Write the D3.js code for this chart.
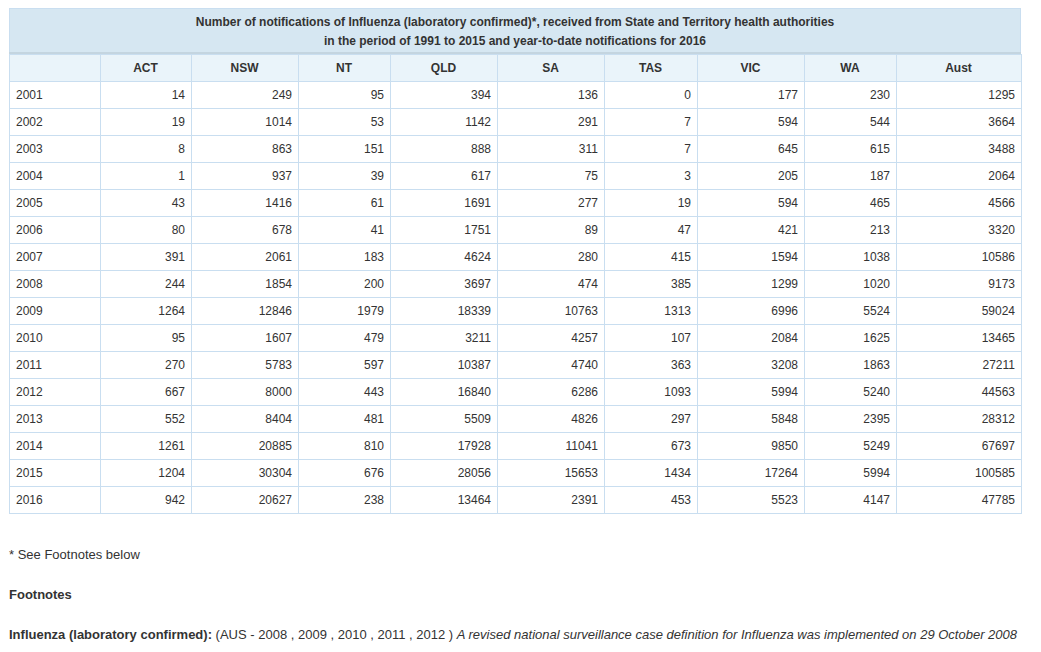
<!DOCTYPE html>
<html>
<head>
<meta charset="utf-8">
<script src="https://cdn.jsdelivr.net/npm/d3@7"></script>
<style>
  body { margin: 0; background: #fff; font-family: "Liberation Sans", Arial, sans-serif; }
  svg text { fill: #333; }
</style>
</head>
<body>
<svg id="chart" width="1041" height="652"></svg>
<script>
// data
var titleLines = [
  "Number of notifications of Influenza (laboratory confirmed)*, received from State and Territory health authorities",
  "in the period of 1991 to 2015 and year-to-date notifications for 2016"
];
var columns = ["", "ACT", "NSW", "NT", "QLD", "SA", "TAS", "VIC", "WA", "Aust"];
var years = ["2001", "2002", "2003", "2004", "2005", "2006", "2007", "2008",
  "2009", "2010", "2011", "2012", "2013", "2014", "2015", "2016"];
var ACT  = [14, 19, 8, 1, 43, 80, 391, 244, 1264, 95, 270, 667, 552, 1261, 1204, 942];
var NSW  = [249, 1014, 863, 937, 1416, 678, 2061, 1854, 12846, 1607, 5783, 8000, 8404, 20885, 30304, 20627];
var NT   = [95, 53, 151, 39, 61, 41, 183, 200, 1979, 479, 597, 443, 481, 810, 676, 238];
var QLD  = [394, 1142, 888, 617, 1691, 1751, 4624, 3697, 18339, 3211, 10387, 16840, 5509, 17928, 28056, 13464];
var SA   = [136, 291, 311, 75, 277, 89, 280, 474, 10763, 4257, 4740, 6286, 4826, 11041, 15653, 2391];
var TAS  = [0, 7, 7, 3, 19, 47, 415, 385, 1313, 107, 363, 1093, 297, 673, 1434, 453];
var VIC  = [177, 594, 645, 205, 594, 421, 1594, 1299, 6996, 2084, 3208, 5994, 5848, 9850, 17264, 5523];
var WA   = [230, 544, 615, 187, 465, 213, 1038, 1020, 5524, 1625, 1863, 5240, 2395, 5249, 5994, 4147];
var Aust = [1295, 3664, 3488, 2064, 4566, 3320, 10586, 9173, 59024, 13465, 27211, 44563, 28312, 67697, 100585, 47785];
var seriesByCol = { ACT: ACT, NSW: NSW, NT: NT, QLD: QLD, SA: SA, TAS: TAS, VIC: VIC, WA: WA, Aust: Aust };

// layout
var LEFT = 9, RIGHT = 1021;
var colWidths = [91, 91, 107, 92, 107, 107, 93, 107, 92, 125];
var TITLE_TOP = 8, TITLE_H = 46, HEAD_H = 27, ROW_H = 27;
var PAD = 7;
var BORDER = "#c9def0";

var svg = d3.select("#chart");

var colEdges = [LEFT];
colWidths.forEach(function(w, i) { colEdges.push(colEdges[i] + w); });
var xCol = d3.scaleOrdinal().domain(columns).range(colEdges.slice(0, -1));
var wCol = d3.scaleOrdinal().domain(columns).range(colWidths);

var bodyTop = TITLE_TOP + TITLE_H + HEAD_H;
var yRow = d3.scaleBand()
  .domain(years)
  .range([bodyTop, bodyTop + ROW_H * years.length]);

// title block
svg.append("rect")
  .attr("x", LEFT + 0.5).attr("y", TITLE_TOP + 0.5)
  .attr("width", RIGHT - LEFT - 1).attr("height", TITLE_H - 1)
  .attr("fill", "#d6e7f2").attr("stroke", BORDER);
svg.append("g").selectAll("text")
  .data(titleLines)
  .enter().append("text")
  .attr("x", (LEFT + RIGHT) / 2)
  .attr("y", function(d, i) { return TITLE_TOP + 18 + i * 19; })
  .attr("text-anchor", "middle")
  .attr("font-size", 12).attr("font-weight", "bold")
  .text(function(d) { return d; });
svg.append("line")
  .attr("x1", LEFT).attr("x2", RIGHT)
  .attr("y1", TITLE_TOP + TITLE_H - 1).attr("y2", TITLE_TOP + TITLE_H - 1)
  .attr("stroke", "#c4d5e0").attr("stroke-width", 2);

// header row
var headTop = TITLE_TOP + TITLE_H;
var head = svg.append("g").selectAll("g")
  .data(columns)
  .enter().append("g");
head.append("rect")
  .attr("x", function(d) { return xCol(d) + 0.5; })
  .attr("y", headTop + 0.5)
  .attr("width", function(d) { return wCol(d); })
  .attr("height", HEAD_H)
  .attr("fill", "#eaf4fa").attr("stroke", BORDER);
head.append("text")
  .attr("x", function(d) { return xCol(d) + wCol(d) / 2; })
  .attr("y", headTop + HEAD_H / 2 + 4)
  .attr("text-anchor", "middle")
  .attr("font-size", 12).attr("font-weight", "bold")
  .text(function(d) { return d; });

// body cells
var rows = svg.append("g").selectAll("g")
  .data(years)
  .enter().append("g")
  .attr("transform", function(d) { return "translate(0," + yRow(d) + ")"; });

rows.selectAll("rect")
  .data(columns)
  .enter().append("rect")
  .attr("x", function(d) { return xCol(d) + 0.5; })
  .attr("y", 0.5)
  .attr("width", function(d) { return wCol(d); })
  .attr("height", yRow.bandwidth())
  .attr("fill", "#fff").attr("stroke", BORDER);

rows.selectAll("text")
  .data(function(year, i) {
    return columns.map(function(c) {
      return { col: c, text: c === "" ? year : String(seriesByCol[c][i]) };
    });
  })
  .enter().append("text")
  .attr("x", function(d) {
    return d.col === "" ? xCol(d.col) + PAD : xCol(d.col) + wCol(d.col) - PAD + 1;
  })
  .attr("y", yRow.bandwidth() / 2 + 4.5)
  .attr("text-anchor", function(d) { return d.col === "" ? "start" : "end"; })
  .attr("font-size", 12)
  .text(function(d) { return d.text; });

// footnotes
svg.append("text")
  .attr("x", LEFT).attr("y", 559)
  .attr("font-size", 13)
  .text("* See Footnotes below");
svg.append("text")
  .attr("x", LEFT).attr("y", 599)
  .attr("font-size", 13).attr("font-weight", "bold")
  .text("Footnotes");
var note = svg.append("text")
  .attr("x", LEFT).attr("y", 639)
  .attr("font-size", 13);
note.append("tspan").attr("font-weight", "bold").text("Influenza (laboratory confirmed):");
note.append("tspan").text(" (AUS - 2008 , 2009 , 2010 , 2011 , 2012 ) ");
note.append("tspan").attr("font-style", "italic")
  .text("A revised national surveillance case definition for Influenza was implemented on 29 October 2008");
</script>
</body>
</html>
